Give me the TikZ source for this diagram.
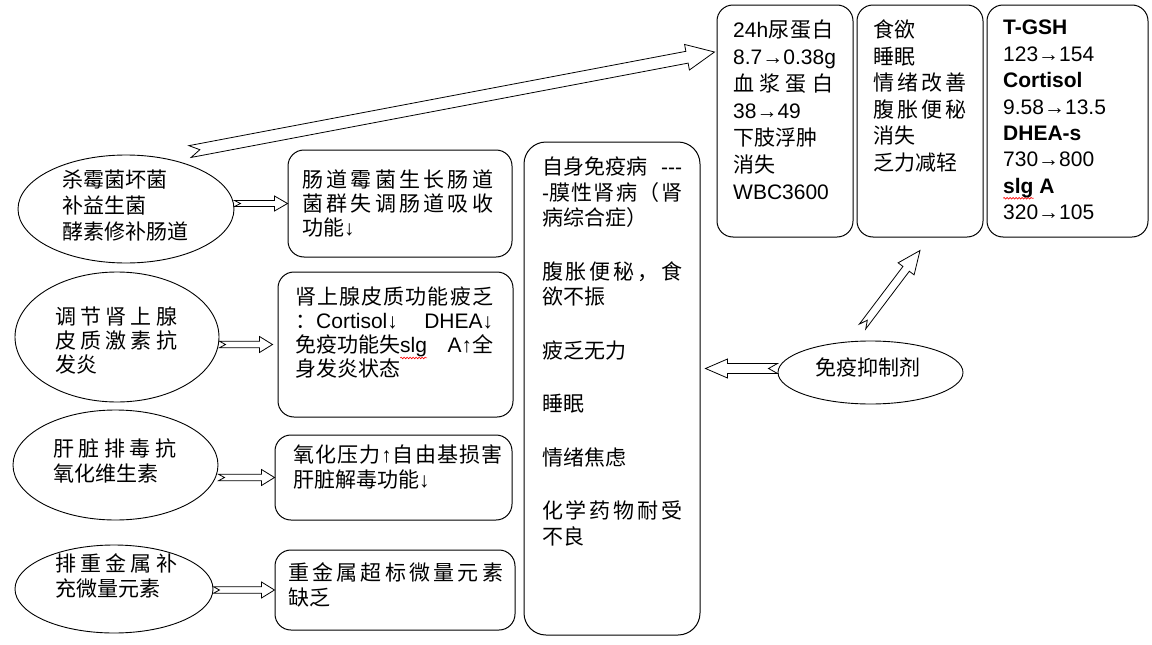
\documentclass[tikz,border=0pt]{standalone}
\usepackage{fontspec}
\usepackage{tikz}
\usetikzlibrary{calc,shapes.geometric,decorations.pathmorphing}
\setmainfont{Noto Sans CJK SC}
\newfontfamily\lat{Liberation Sans}
\newcommand{\en}[1]{{\lat #1}}
\newsavebox{\wavebox}
\newcommand{\redwave}[1]{\sbox{\wavebox}{#1}\makebox[0pt][l]{\tikz[overlay]\draw[red, line width=0.6pt, decorate, decoration={snake, amplitude=0.8pt, segment length=3pt}] (0pt,-5pt) -- (\the\wd\wavebox,-5pt);}\usebox{\wavebox}}
\makeatletter
\newcommand{\spread}[2]{\hbox to #1{\@tempswafalse\@tfor\sp@tok:=#2\do{\if@tempswa\hfil\fi\@tempswatrue\sp@tok}}}
\makeatother
\newcommand{\fatarrow}[6]{%
  \coordinate (hb) at ($(#2)!#5!(#1)$);
  \draw[arrowline] ($(#1)!#3!90:(#2)$) -- ($(hb)!#3!90:(#2)$) -- ($(hb)!#4!90:(#2)$) -- (#2)
    -- ($(hb)!#4!-90:(#2)$) -- ($(hb)!#3!-90:(#2)$) -- ($(#1)!#3!-90:(#2)$) -- ($(#1)!#6!(#2)$) -- cycle;}

\begin{document}
\begin{tikzpicture}[x=1pt,y=-1pt,
  rbox/.style={draw, rounded corners=16pt, line width=1pt, inner sep=0pt},
  oval/.style={draw, ellipse, line width=0.9pt, inner sep=0pt},
  txt/.style={anchor=north west, inner sep=0pt, align=left, font=\fontsize{21}{#1}\selectfont},
  txt/.default=26,
  arrowline/.style={line width=0.8pt, fill=white, line join=miter}]
\useasboundingbox (0,0) rectangle (1152,645);

\node[rbox, minimum width=136pt, minimum height=232pt] (ra) at (785,121) {};
\node[rbox, minimum width=126pt, minimum height=232pt] (rb) at (920,121) {};
\node[rbox, minimum width=161pt, minimum height=232pt] (rc) at (1067.5,121) {};
\node[rbox, minimum width=224pt, minimum height=107pt] (m1) at (400,203.5) {};
\node[rbox, minimum width=235pt, minimum height=145pt] (m2) at (395.5,344.5) {};
\node[rbox, minimum width=237pt, minimum height=85pt] (m3) at (393.5,477.5) {};
\node[rbox, minimum width=240pt, minimum height=80pt] (m4) at (395,590) {};
\node[rbox, minimum width=176pt, minimum height=493pt, rounded corners=22pt] (big) at (612,388.5) {};

\node[oval, minimum width=216pt, minimum height=108pt] (e1) at (126,209) {};
\node[oval, minimum width=204pt, minimum height=130pt] (e2) at (117,337) {};
\node[oval, minimum width=205pt, minimum height=110pt] (e3) at (115.5,465) {};
\node[oval, minimum width=198pt, minimum height=88pt] (e4) at (114,589) {};
\node[oval, minimum width=185pt, minimum height=63pt] (ims) at (870.5,372.5) {};

\node[txt=27] (ta) at (733,20) {\spread{100pt}{{\en{24h}}尿蛋白}\\ \en{8.7→0.38g}\\ \spread{100pt}{血浆蛋白}\\ \en{38→49}\\ 下肢浮肿\\ 消失\\ \en{WBC3600}};
\node[txt=26.5] (tb) at (873,20) {食欲\\ 睡眠\\ \spread{93pt}{情绪改善}\\ \spread{93pt}{腹胀便秘}\\ 消失\\ 乏力减轻};
\node[txt=26.4] (tc) at (1003,20) {\en{\bfseries T-GSH}\\ \en{123→154}\\ \en{\bfseries Cortisol}\\ \en{9.58→13.5}\\ \en{\bfseries DHEA-s}\\ \en{730→800}\\ \en{\bfseries\redwave{slg} A}\\ \en{320→105}};

\node[txt=24] (t1) at (302,170) {\spread{191pt}{肠道霉菌生长肠道}\\ \spread{191pt}{菌群失调肠道吸收}\\ 功能\en{↓}};
\node[txt=24] (t2) at (295,287) {\spread{198pt}{肾上腺皮质功能疲乏}\\ \spread{198pt}{{：\en{Cortisol↓}}{\en{DHEA↓}}}\\ \spread{198pt}{{免疫功能失\en{\redwave{slg}}}{\en{A↑}全}}\\ 身发炎状态};
\node[txt=25] (t3) at (293,445) {\spread{209pt}{氧化压力{\en{↑}}自由基损害}\\ 肝脏解毒功能\en{↓}};
\node[txt=25] (t4) at (288,562) {\spread{215pt}{重金属超标微量元素}\\ 缺乏};
\node[txt=25.5] (tbig) at (542,157) {\spread{140pt}{{自身免疫病}{\en{-{}-{}-}}}\\ \spread{140pt}{{\en{-}膜}性肾病（肾}\\ 病综合症）\\[28pt]
  \spread{140pt}{腹胀便秘，食}\\ 欲不振\\[28pt] 疲乏无力\\[28pt] 睡眠\\[28pt] 情绪焦虑\\[28pt] \spread{140pt}{化学药物耐受}\\ 不良};

\node[txt=26] (te1) at (62,170) {杀霉菌坏菌\\ 补益生菌\\ 酵素修补肠道};
\node[txt=24] (te2) at (55,307) {\spread{122pt}{调节肾上腺}\\ \spread{122pt}{皮质激素抗}\\ 发炎};
\node[txt=25] (te3) at (53,438) {\spread{123pt}{肝脏排毒抗}\\ 氧化维生素};
\node[txt=25] (te4) at (55,553) {\spread{122pt}{排重金属补}\\ 充微量元素};
\node[font=\fontsize{21}{26}\selectfont, inner sep=0pt] (imst) at (868,367) {免疫抑制剂};

\coordinate (a1) at (m1.west -| e1.east);
\fatarrow{a1}{m1.west}{3pt}{7.5pt}{13pt}{6pt}
\coordinate (a2) at (m2.west -| e2.east);
\coordinate (b2) at ([xshift=-5pt]m2.west);
\fatarrow{a2}{b2}{3.3pt}{8pt}{13pt}{6pt}
\coordinate (a3) at (m3.west -| e3.east);
\fatarrow{a3}{m3.west}{3.3pt}{8pt}{13pt}{6pt}
\coordinate (a4) at (m4.west -| e4.east);
\fatarrow{a4}{m4.west}{3.3pt}{8pt}{13pt}{6pt}
\coordinate (lt) at ($(e1.north)+(64,-3)$);
\coordinate (lh) at ($(ra.west)+(-2,-69)$);
\fatarrow{lt}{lh}{6pt}{13pt}{28pt}{10pt}
\coordinate (it) at ($(ims.west)+(0,-4)$);
\coordinate (ih) at ($(big.east |- ims.west)+(5,-4)$);
\fatarrow{it}{ih}{5pt}{9.5pt}{22pt}{9pt}
\coordinate (ut) at ($(ims.north)+(-8,-14)$);
\coordinate (uh) at ($(rb.south)+(0,13)$);
\fatarrow{ut}{uh}{4pt}{10pt}{23pt}{8pt}
\end{tikzpicture}
\end{document}
